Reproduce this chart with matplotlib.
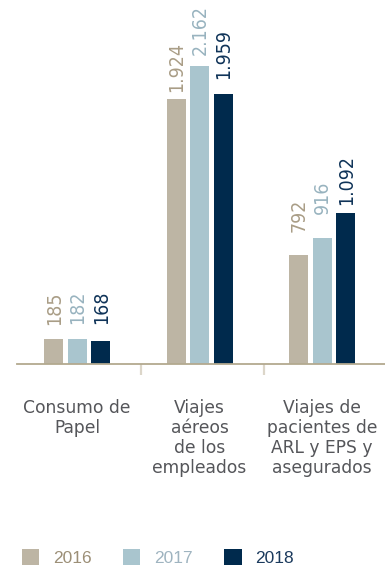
import matplotlib

matplotlib.use("Agg")
import matplotlib.pyplot as plt
import numpy as np
from matplotlib import font_manager
from matplotlib.patches import Patch

categories = [
    "Consumo de\nPapel",
    "Viajes\naéreos\nde los\nempleados",
    "Viajes de\npacientes de\nARL y EPS y\nasegurados",
]
years = ["2016", "2017", "2018"]
values_2016 = [185, 1924, 792]
values_2017 = [182, 2162, 916]
values_2018 = [168, 1959, 1092]

BAR_COLORS = ["#bdb5a4", "#a9c5ce", "#002a4d"]
LABEL_COLORS = ["#a99d86", "#98b3bf", "#0f3358"]
LEGEND_TEXT_COLORS = ["#9c8f77", "#9fb4c0", "#1b3a5d"]
AXIS_COLOR = "#b3a98f"
SEP_TICK_COLOR = "#dcd6c9"
CAT_COLOR = "#55565a"

# gap (px) between bar top and its value label, per series per group
LABEL_GAP_PX = [
    [14, 7, 23],
    [15, 11, 24],
    [17, 15, 8],
]

# condensed face for the rotated value labels, if one is installed
condensed = [
    f for f in font_manager.fontManager.ttflist
    if f.stretch in ("condensed", "semi-condensed") or "Narrow" in f.name or "Condensed" in f.name
]
NARROW = condensed[0].name if condensed else "DejaVu Sans"
NARROW_STRETCH = condensed[0].stretch if condensed else "normal"


def fmt_es(v: int) -> str:
    return f"{v:,}".replace(",", ".")


fig = plt.figure(figsize=(3.85, 5.7), dpi=100)
ax = fig.add_axes([17 / 385, 206 / 570, 368 / 385, 364 / 570])

x = np.arange(len(categories))
width = 0.155
step = 0.192
series = [values_2016, values_2017, values_2018]

px_to_pt = 72 / fig.dpi
for i, vals in enumerate(series):
    xs = x + (i - 1) * step
    ax.bar(xs, vals, width=width, color=BAR_COLORS[i], linewidth=0)
    for j, (bx, v) in enumerate(zip(xs, vals)):
        ax.annotate(
            fmt_es(v),
            xy=(bx, v),
            xytext=(0.5, LABEL_GAP_PX[i][j] * px_to_pt),
            textcoords="offset points",
            rotation=90,
            ha="center",
            va="bottom",
            fontsize=14 if NARROW == "DejaVu Sans" else 15.5,
            family=NARROW,
            fontstretch=NARROW_STRETCH,
            color=LABEL_COLORS[i],
        )

ax.set_xlim(-0.49, 2.514)
ax.set_ylim(0, 2641)

for side in ("top", "right", "left"):
    ax.spines[side].set_visible(False)
ax.spines["bottom"].set_color(AXIS_COLOR)
ax.spines["bottom"].set_linewidth(1.3)
ax.set_yticks([])

ax.set_xticks(x)
ax.set_xticklabels(
    categories,
    fontsize=12.3,
    family="DejaVu Sans",
    color=CAT_COLOR,
    linespacing=1.15,
    va="top",
)
ax.tick_params(axis="x", which="major", length=0, pad=25)
ax.set_xticks([0.52, 1.53], minor=True)
ax.tick_params(axis="x", which="minor", length=8, width=1.6, color=SEP_TICK_COLOR)

handles = [Patch(facecolor=c, edgecolor="none") for c in BAR_COLORS]
leg = fig.legend(
    handles,
    years,
    loc="center left",
    bbox_to_anchor=(22 / 385, 1 - 557.5 / 570),
    ncol=3,
    frameon=False,
    prop={"family": "Liberation Sans", "size": 12.5},
    handlelength=1.0,
    handleheight=1.0,
    handletextpad=0.8,
    columnspacing=1.8,
    borderpad=0,
    borderaxespad=0,
)
for txt, c in zip(leg.get_texts(), LEGEND_TEXT_COLORS):
    txt.set_color(c)

fig.savefig("out.png", dpi=100)
